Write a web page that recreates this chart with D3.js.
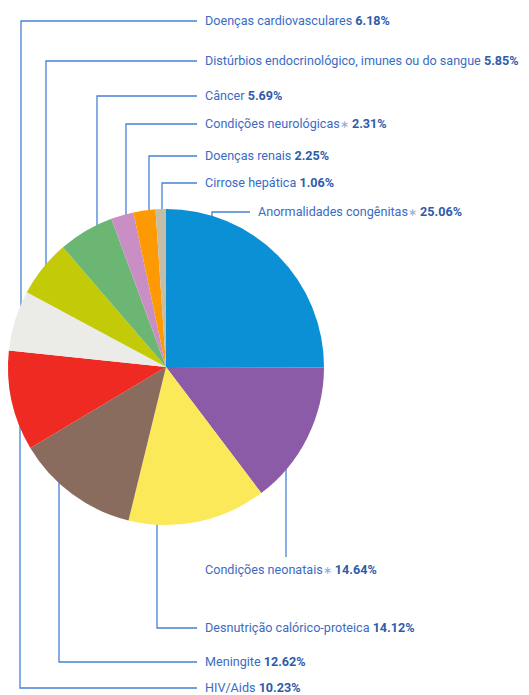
<!DOCTYPE html>
<html>
<head>
<meta charset="utf-8">
<script src="https://cdn.jsdelivr.net/npm/d3@7"></script>
<style>
  body { margin: 0; background: #fff; }
  text { font-family: Roboto, "Noto Sans", sans-serif; font-size: 12.6px; }
</style>
</head>
<body>
<div id="chart"></div>
<script>
// fatias no sentido horario a partir do topo
var categorias = [
  'Anormalidades congênitas', 'Condições neonatais', 'Desnutrição calórico-proteica',
  'Meningite', 'HIV/Aids', 'Doenças cardiovasculares',
  'Distúrbios endocrinológico, imunes ou do sangue', 'Câncer',
  'Condições neurológicas', 'Doenças renais', 'Cirrose hepática'
];
var valores = [25.06, 14.64, 14.12, 12.62, 10.23, 6.18, 5.85, 5.69, 2.31, 2.25, 1.06];
var asterisco = [true, true, false, false, false, false, false, false, true, false, false];
var cores = ['#0b8fd5', '#8c5ba7', '#fce95a', '#8a6c5e', '#ee2a23', '#ebebe7',
             '#c3ca07', '#6bb672', '#c98fc4', '#fd9a03', '#c4bea6'];

// posicao das chamadas: x da linha vertical, y do texto
var chamadaX = [212, 286, 157, 59, 20, 21, 46, 97, 126, 149, 162];
var chamadaY = [212, 570, 628, 662, 688, 21, 61, 96, 124, 156, 183];

var width = 529, height = 695;
var cx = 166, cy = 367, r = 158;
var corLinha = '#4682d6';

var svg = d3.select('#chart')
  .append('svg')
  .attr('width', width)
  .attr('height', height);

var pie = d3.pie().sort(null).value(function(d){ return d; });
var arcs = pie(valores);
var arc = d3.arc().innerRadius(0).outerRadius(r);

// linhas de chamada
var linhas = svg.append('g').attr('class', 'linhas')
  .attr('fill', 'none')
  .attr('stroke', corLinha)
  .attr('stroke-width', 1.3);

categorias.forEach(function(c, i){
  var x = chamadaX[i], y = chamadaY[i];
  var dx = x - cx;
  var h = Math.sqrt(r * r - dx * dx);
  var path;
  if (i === 0) {
    // anormalidades: curta, acima da pizza
    path = 'M' + x + ',' + (cy - h + 2) + 'V' + y + 'H250';
  } else if (i === 1) {
    // neonatais: so vertical, termina acima do texto
    path = 'M' + x + ',' + (cy + h - 2) + 'V' + (y - 13);
  } else if (y > cy) {
    path = 'M' + x + ',' + (cy + h - 2) + 'V' + y + 'H197';
  } else {
    path = 'M' + x + ',' + (cy - h + 2) + 'V' + y + 'H197';
  }
  linhas.append('path').attr('d', path);
});

// pizza
svg.append('g')
  .attr('transform', 'translate(' + cx + ',' + cy + ')')
  .selectAll('path')
  .data(arcs)
  .enter()
  .append('path')
  .attr('d', arc)
  .attr('fill', function(d, i){ return cores[i]; });

// rotulos
var rot = svg.append('g').attr('class', 'rotulos');
categorias.forEach(function(c, i){
  var t = rot.append('text')
    .attr('x', i === 0 ? 258 : 205)
    .attr('y', chamadaY[i] + 4)
    .attr('fill', '#3a6cc4');
  t.append('tspan').text(c);
  if (asterisco[i]) {
    t.append('tspan').attr('fill', '#8fa9dc').attr('font-size', '11px').text('\u2217');
  }
  t.append('tspan')
    .attr('font-weight', 700)
    .attr('fill', '#2f5bab')
    .text(' ' + valores[i].toFixed(2) + '%');
});
</script>
</body>
</html>
